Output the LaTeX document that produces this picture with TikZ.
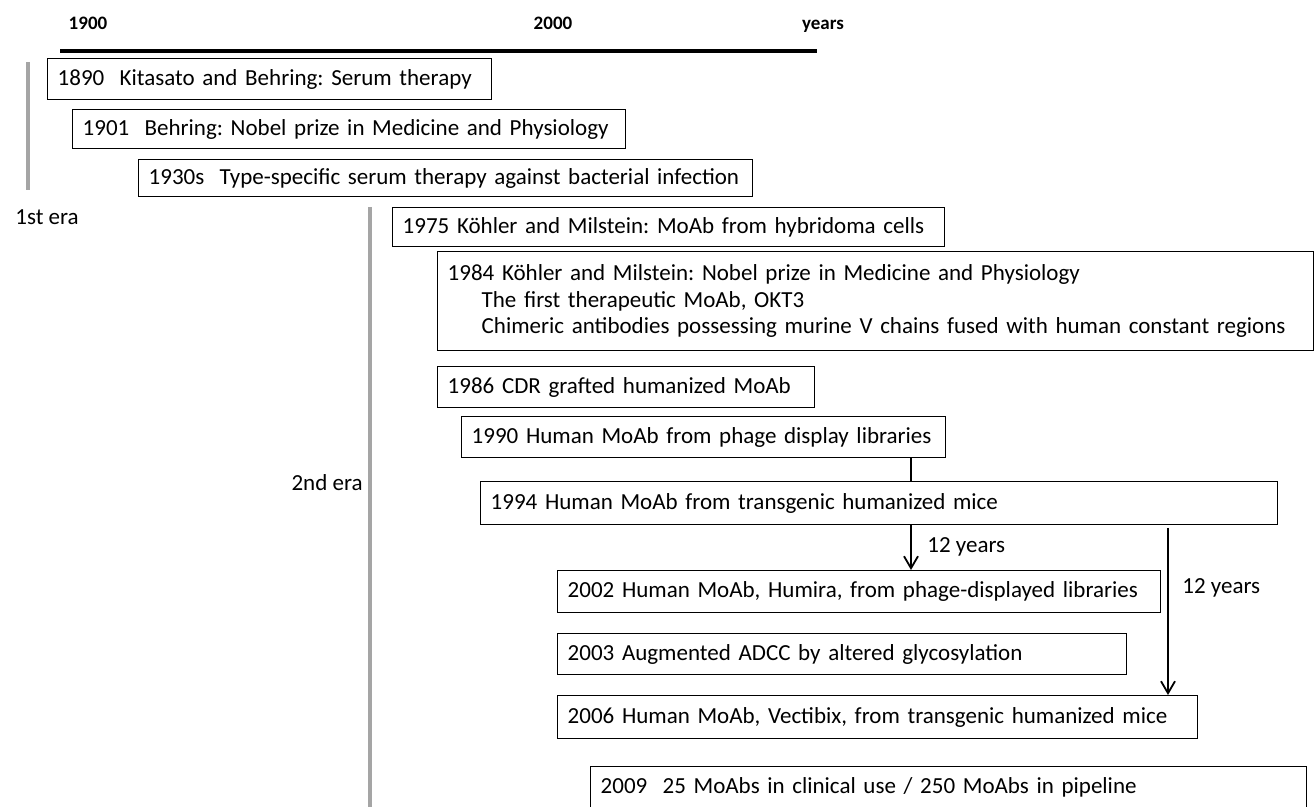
\documentclass[tikz,border=0pt]{standalone}
\usepackage{fontspec}
\setmainfont{Carlito}
\usepackage{tikz}
\usetikzlibrary{arrows.meta, positioning}
\definecolor{eraGray}{RGB}{165, 165, 165}
\frenchspacing

\tikzset{
  event/.style={draw, line width=0.7pt, anchor=north west, align=left,
    inner xsep=5pt, inner ysep=0pt, font=\fontsize{11.5}{13.3}\selectfont},
  eralabel/.style={font=\fontsize{11.5}{13.3}\selectfont, inner sep=0pt},
  yearlabel/.style={font=\fontsize{9.5}{11}\selectfont\bfseries, inner sep=0pt, anchor=base},
  era/.style={eraGray, line width=2pt},
  gap/.style={line width=0.9pt}
}

\begin{document}
\begin{tikzpicture}[x=0.5pt, y=-0.5pt, >={Straight Barb[length=6pt, width=7pt]}]
  \useasboundingbox (0,0) rectangle (1314,807);

  % Time axis
  \draw[line width=2pt] (60,51) -- (817,51);
  \node[yearlabel] (y1900) at (88,30) {1900};
  \node[yearlabel] (y2000) at (553,30) {2000};
  \node[yearlabel] (yyears) at (823,30) {years};

  % Eras
  \draw[era] (28,62) -- (28,190);
  \node[eralabel, anchor=west] (era1) at (15,217) {1st era};
  \draw[era] (370,207) -- (370,807);
  \node[eralabel, anchor=east] (era2) at (363,483) {2nd era};

  % 1st era events
  \node[event, text width=212pt, minimum height=20.5pt] (e1890) at (47,58)
    {1890\ \ Kitasato and Behring: Serum therapy};
  \node[event, text width=266.5pt, minimum height=19.5pt] (e1901) at (72,109)
    {1901\ \ Behring: Nobel prize in Medicine and Physiology};
  \node[event, text width=297pt, minimum height=18.5pt] (e1930) at (138,159)
    {1930s\ \ Type-specific serum therapy against bacterial infection};

  % 2nd era events
  \node[event, text width=266pt, minimum height=19.5pt] (e1975) at (392,207)
    {1975 Köhler and Milstein: MoAb from hybridoma cells};
  \node[event, text width=428pt, minimum height=49.5pt] (e1984) at (437,251)
    {1984 Köhler and Milstein: Nobel prize in Medicine and Physiology\\
     \hspace*{17pt}The first therapeutic MoAb, OKT3\\
     \hspace*{17pt}Chimeric antibodies possessing murine V chains fused with human constant regions};
  \node[event, text width=178.5pt, minimum height=20.5pt] (e1986) at (437,366)
    {1986 CDR grafted humanized MoAb};
  \node[event, text width=232pt, minimum height=20.5pt] (e1990) at (461,416)
    {1990 Human MoAb from phage display libraries};
  \node[event, text width=388.5pt, minimum height=21.5pt] (e1994) at (480,481)
    {1994 Human MoAb from transgenic humanized mice};
  \node[event, text width=291.5pt, minimum height=21pt] (e2002) at (557,570)
    {2002 Human MoAb, Humira, from phage-displayed libraries};
  \node[event, text width=274.5pt, minimum height=20.5pt] (e2003) at (557,633)
    {2003 Augmented ADCC by altered glycosylation};
  \node[event, text width=310pt, minimum height=21.5pt] (e2006) at (557,695)
    {2006 Human MoAb, Vectibix, from transgenic humanized mice};
  \node[event, text width=348pt, minimum height=21pt] (e2009) at (590,766)
    {2009\ \ 25 MoAbs in clinical use / 250 MoAbs in pipeline};

  % Development gaps
  \coordinate (phage) at (911,0);
  \coordinate (mice) at (1168,528);
  \draw[gap] (e1990.south -| phage) -- (e1994.north -| phage);
  \draw[gap, ->] (e1994.south -| phage) -- (e2002.north -| phage);
  \draw[gap, ->] (mice) -- (e2006.north -| mice);
  \node[eralabel, anchor=west] (gap1) at (927,547) {12 years};
  \node[eralabel, anchor=west] (gap2) at (1182,588) {12 years};
\end{tikzpicture}
\end{document}
